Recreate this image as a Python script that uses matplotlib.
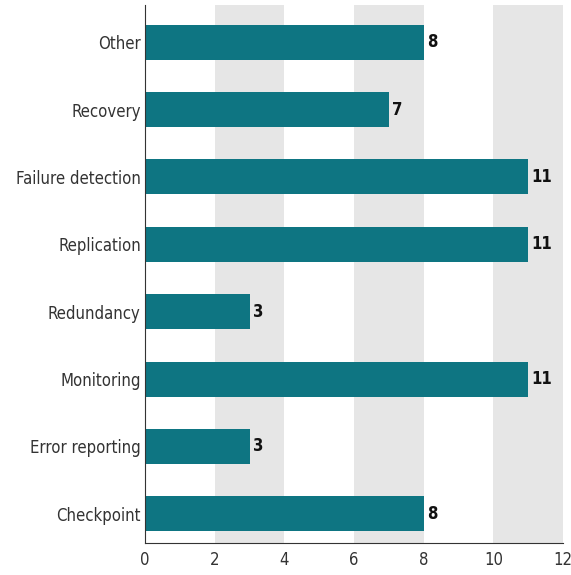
import matplotlib.pyplot as plt

categories = ["Checkpoint", "Error reporting", "Monitoring", "Redundancy",
              "Replication", "Failure detection", "Recovery", "Other"]
counts = [8, 3, 11, 3, 11, 11, 7, 8]
xticks = [0, 2, 4, 6, 8, 10, 12]

plt.rcParams['font.family'] = ['DejaVu Sans']
plt.rcParams['font.stretch'] = 'condensed'

fig = plt.figure(figsize=(5.71, 5.75), dpi=100)
ax = fig.add_axes([0.254, 0.056, 0.732, 0.935])

# alternating grey bands
for lo in xticks[1::2][:3]:
    ax.axvspan(lo, lo + 2, color="#e6e6e6", zorder=0, lw=0)

y = range(len(categories))
ax.barh(y, counts, height=0.52, color="#0e7582", zorder=2)
for yi, v in zip(y, counts):
    ax.text(v + 0.1, yi, str(v), va="center", ha="left",
            fontsize=12, fontweight="bold", color="#111111")

ax.set_xlim(0, 12)
ax.set_ylim(-0.43, 7.55)
ax.set_xticks(xticks)
ax.set_yticks(list(y))
ax.set_yticklabels(categories, fontsize=12, color="#333333")
ax.tick_params(axis="x", length=0, labelsize=12, labelcolor="#333333", pad=6)
ax.tick_params(axis="y", length=0, pad=3)
ax.spines["top"].set_visible(False)
ax.spines["right"].set_visible(False)
ax.spines["left"].set_color("#333333")
ax.spines["bottom"].set_color("#333333")

fig.savefig("out.png", dpi=100)
